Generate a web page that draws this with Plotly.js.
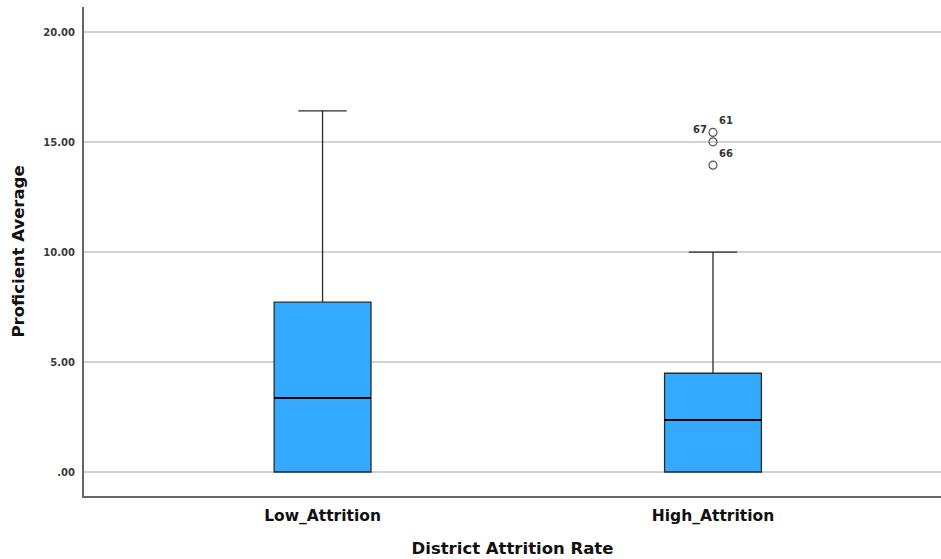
<!DOCTYPE html>
<html>
<head>
<meta charset="utf-8">
<script src="https://cdn.plot.ly/plotly-3.0.1.min.js"></script>
<style>html,body{margin:0;padding:0;background:#fff;}#chart{width:941px;height:559px;}</style>
</head>
<body>
<div id="chart"></div>
<script>
// Data
const categories = ['Low_Attrition', 'High_Attrition'];
const q1Values = [0, 0];
const medianValues = [3.36, 2.36];
const q3Values = [7.72, 4.49];
const lowerFenceValues = [0, 0];
const upperFenceValues = [16.42, 10.0];

const outlierCategories = ['High_Attrition', 'High_Attrition', 'High_Attrition'];
const outlierValues = [15.44, 15.01, 13.95];
const outlierLabels = ['61', '67', '66'];

const yTickValues = [0, 5, 10, 15, 20];
const yTickLabels = ['.00', '5.00', '10.00', '15.00', '20.00'];

const boldFont = 'DejaVu Sans, Arial, sans-serif';

const boxTrace = {
  type: 'box',
  x: categories,
  q1: q1Values,
  median: medianValues,
  q3: q3Values,
  lowerfence: lowerFenceValues,
  upperfence: upperFenceValues,
  boxpoints: false,
  width: 0.248,
  whiskerwidth: 0.5,
  fillcolor: '#33A9FF',
  line: {color: '#2b2b2b', width: 1.3},
  hoverinfo: 'skip',
  showlegend: false
};

// Thicker median line overlay (degenerate box at the median)
const medianTrace = {
  type: 'box',
  x: categories,
  q1: medianValues,
  median: medianValues,
  q3: medianValues,
  lowerfence: medianValues,
  upperfence: medianValues,
  boxpoints: false,
  width: 0.248,
  whiskerwidth: 0,
  fillcolor: 'rgba(0,0,0,0)',
  line: {color: '#000000', width: 2},
  hoverinfo: 'skip',
  showlegend: false
};

const outlierTrace = {
  type: 'scatter',
  mode: 'markers+text',
  x: outlierCategories,
  y: outlierValues,
  text: outlierLabels,
  textposition: ['top right', 'top left', 'top right'],
  textfont: {family: boldFont, size: 10, color: '#333333', weight: 'bold'},
  marker: {symbol: 'circle-open', size: 8, color: '#555555', line: {width: 1.2, color: '#555555'}},
  hoverinfo: 'skip',
  showlegend: false,
  cliponaxis: false
};

const layout = {
  width: 941,
  height: 559,
  margin: {l: 84, r: 0, t: 7, b: 63, pad: 0},
  paper_bgcolor: '#ffffff',
  plot_bgcolor: '#ffffff',
  boxmode: 'overlay',
  showlegend: false,
  font: {family: boldFont, color: '#222'},
  xaxis: {
    type: 'category',
    range: [-0.611, 1.584],
    showgrid: false,
    zeroline: false,
    showline: true,
    linecolor: '#666666',
    linewidth: 2,
    ticks: '',
    ticklabelstandoff: 4,
    tickfont: {family: boldFont, size: 15.5, color: '#111', weight: 'bold'},
    title: {text: 'District Attrition Rate', font: {family: boldFont, size: 16.5, color: '#111', weight: 'bold'}, standoff: 19},
    fixedrange: true
  },
  yaxis: {
    range: [-1.09, 21.14],
    tickvals: yTickValues,
    ticktext: yTickLabels,
    showgrid: true,
    gridcolor: '#d2d2d2',
    gridwidth: 1.5,
    zeroline: false,
    showline: true,
    linecolor: '#666666',
    linewidth: 2,
    ticks: '',
    ticklabelstandoff: 5,
    tickfont: {family: boldFont, size: 10, color: '#3a3a3a', weight: 'bold'},
    title: {text: 'Proficient Average', font: {family: boldFont, size: 16.5, color: '#111', weight: 'bold'}, standoff: 15},
    fixedrange: true
  }
};

Plotly.newPlot('chart', [boxTrace, medianTrace, outlierTrace], layout, {displayModeBar: false, staticPlot: true});
</script>
</body>
</html>
